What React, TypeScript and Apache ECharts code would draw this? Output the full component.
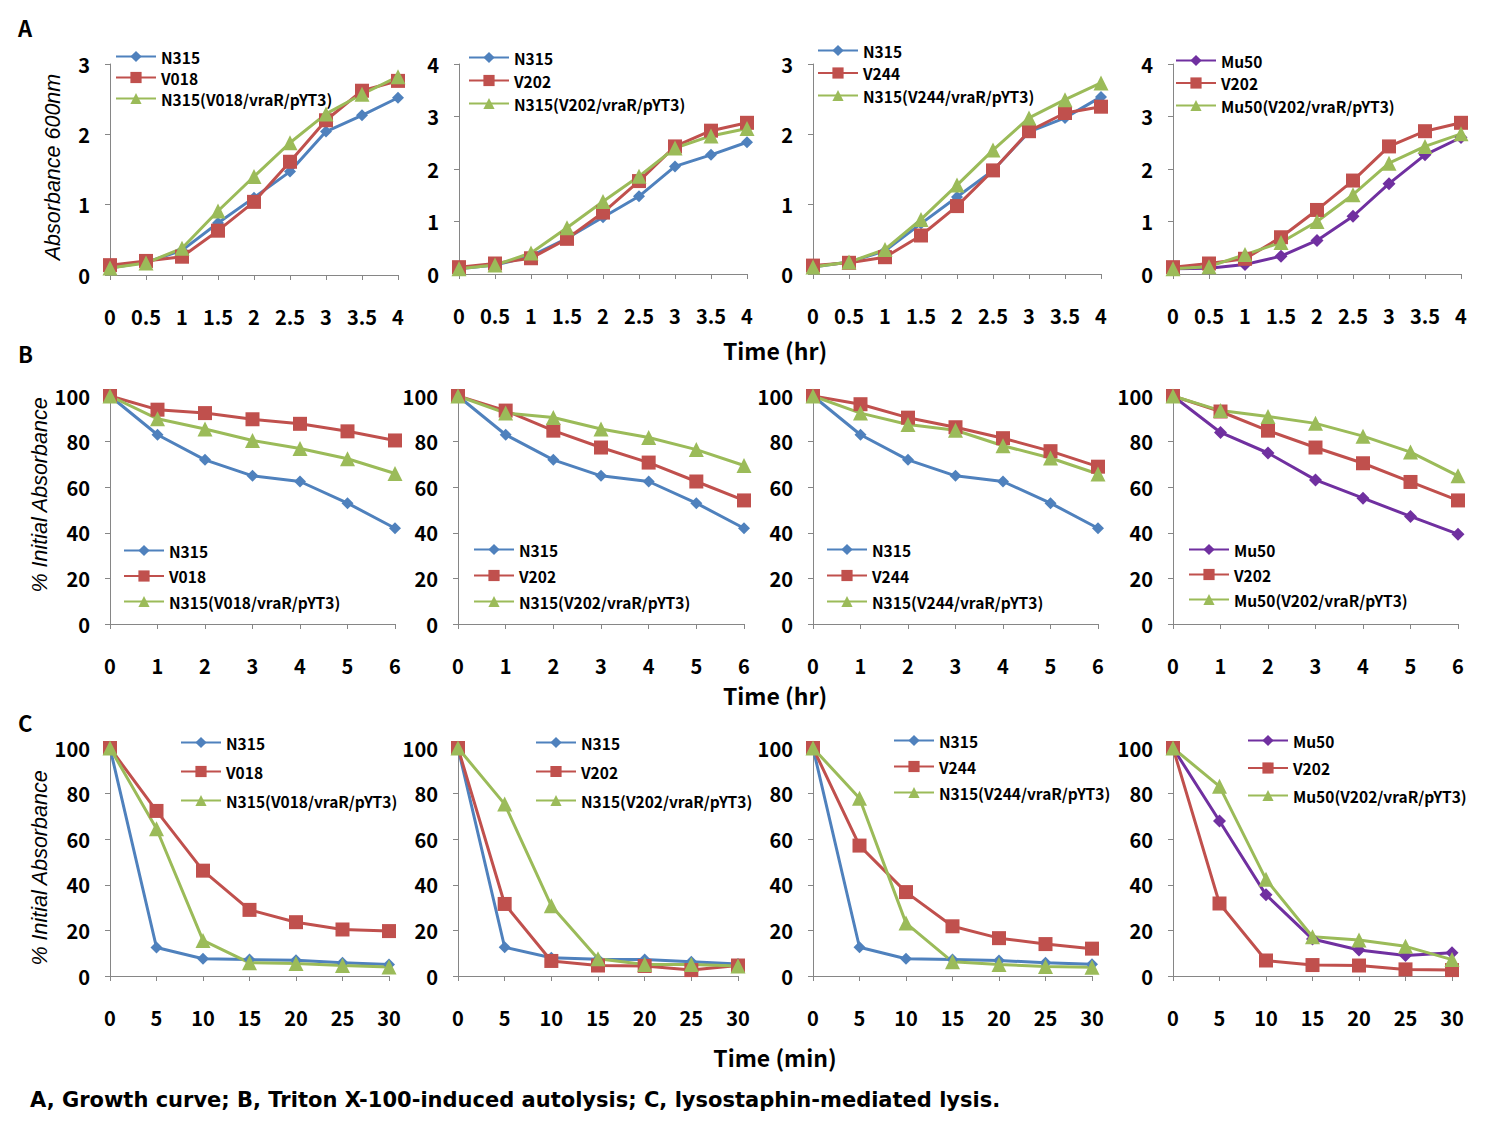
import React, { useEffect, useRef } from 'react';
import * as echarts from 'echarts';

// ---------- categories ----------
const xHours4 = ['0', '0.5', '1', '1.5', '2', '2.5', '3', '3.5', '4'];
const xHours6 = ['0', '1', '2', '3', '4', '5', '6'];
const xMinutes = ['0', '5', '10', '15', '20', '25', '30'];

const yTicksA3 = [0, 1, 2, 3];
const yTicksA4 = [0, 1, 2, 3, 4];
const yTicksPct = [0, 20, 40, 60, 80, 100];

// ---------- A: growth curve (Absorbance 600nm) ----------
const a1N315 = [0.1, 0.18, 0.35, 0.74, 1.1, 1.47, 2.04, 2.27, 2.52];
const a1V018 = [0.14, 0.2, 0.26, 0.63, 1.04, 1.61, 2.2, 2.62, 2.76];
const a1Comp = [0.1, 0.17, 0.38, 0.91, 1.4, 1.88, 2.29, 2.57, 2.82];

const a2N315 = [0.1, 0.17, 0.34, 0.68, 1.08, 1.48, 2.05, 2.27, 2.51];
const a2V202 = [0.13, 0.2, 0.3, 0.67, 1.17, 1.77, 2.43, 2.73, 2.88];
const a2Comp = [0.1, 0.17, 0.4, 0.88, 1.38, 1.86, 2.4, 2.63, 2.77];

const a3N315 = [0.1, 0.17, 0.33, 0.72, 1.1, 1.48, 2.03, 2.23, 2.53];
const a3V244 = [0.12, 0.16, 0.24, 0.55, 0.97, 1.48, 2.04, 2.3, 2.39];
const a3Comp = [0.1, 0.17, 0.35, 0.78, 1.27, 1.77, 2.23, 2.49, 2.73];

const a4Mu50 = [0.1, 0.11, 0.18, 0.34, 0.64, 1.1, 1.72, 2.27, 2.6];
const a4V202 = [0.13, 0.2, 0.29, 0.7, 1.22, 1.78, 2.43, 2.72, 2.88];
const a4Comp = [0.1, 0.14, 0.37, 0.6, 1.0, 1.51, 2.11, 2.43, 2.67];

// ---------- B: Triton X-100-induced autolysis (% initial absorbance) ----------
const b1N315 = [100, 83, 72, 65, 62.5, 53, 42];
const b1V018 = [100, 94, 92.5, 89.8, 87.8, 84.5, 80.5];
const b1Comp = [100, 90, 85.5, 80.5, 77, 72.5, 66];

const b2N315 = [100, 83, 72, 65, 62.5, 53, 42];
const b2V202 = [100, 93.6, 84.8, 77.4, 70.8, 62.5, 54.2];
const b2Comp = [100, 92.5, 90.6, 85.5, 81.8, 76.5, 69.5];

const b3N315 = [100, 83, 72, 65, 62.5, 53, 42];
const b3V244 = [100, 96.4, 90.5, 86.3, 81.5, 75.8, 69];
const b3Comp = [100, 92.5, 87.5, 85, 78.2, 72.8, 65.8];

const b4Mu50 = [100, 84, 75, 63.2, 55.2, 47.2, 39.4];
const b4V202 = [100, 93.2, 84.8, 77.4, 70.5, 62.3, 54.2];
const b4Comp = [100, 93.6, 91, 88, 82.4, 75.4, 65];

// ---------- C: lysostaphin-mediated lysis (% initial absorbance) ----------
const c1N315 = [100, 12.5, 7.6, 7.2, 6.9, 5.8, 5];
const c1V018 = [100, 72.4, 46.2, 29, 23.6, 20.4, 19.7];
const c1Comp = [100, 64.6, 15.6, 5.8, 5.5, 4.6, 4];

const c2N315 = [100, 12.6, 8, 7.4, 7.2, 6.2, 5.3];
const c2V202 = [100, 31.6, 6.6, 4.6, 4.4, 2.6, 4.6];
const c2Comp = [100, 75.4, 30.8, 7.6, 5, 5, 4.4];

const c3N315 = [100, 12.6, 7.6, 7.2, 6.8, 5.8, 5.2];
const c3V244 = [100, 57.2, 36.8, 21.8, 16.6, 14, 12];
const c3Comp = [100, 78, 23.2, 6.2, 5, 4.2, 3.8];

const c4Mu50 = [100, 68, 35.6, 16.2, 11.4, 9, 10.2];
const c4V202 = [100, 31.8, 6.8, 4.8, 4.6, 2.9, 2.6];
const c4Comp = [100, 83.2, 42.4, 17.2, 15.8, 13, 7.2];

// ---------- styling ----------
const FONT = '"Noto Sans CJK KR", "Noto Sans", sans-serif';
const WIDE_FONT = '"DejaVu Sans", Verdana, sans-serif';
const AXIS_GRAY = '#868686';
const STYLE: Record<string, { color: string; symbol: string; size: number }> = {
  N315: { color: '#4F81BD', symbol: 'diamond', size: 12 },
  Mu50: { color: '#7030A0', symbol: 'diamond', size: 13 },
  mutant: { color: '#C0504D', symbol: 'rect', size: 14 },
  comp: { color: '#9BBB59', symbol: 'triangle', size: 15 },
};

type SeriesDef = { name: string; kind: string; data: number[] };
type Panel = {
  grid: { left: number; top: number; width: number; height: number };
  cats: string[];
  yTicks: number[];
  legend: { left: number; top: number; gap: number };
  series: SeriesDef[];
};

const trio = (base: string, mutant: string, a: number[], b: number[], c: number[]): SeriesDef[] => [
  { name: base, kind: base, data: a },
  { name: mutant, kind: 'mutant', data: b },
  { name: `${base}(${mutant}/vraR/pYT3)`, kind: 'comp', data: c },
];

const colLeft = [110, 458, 813, 1173];
const panels: Panel[] = [
  // Row A
  { grid: { left: colLeft[0], top: 64, width: 288, height: 211 }, cats: xHours4, yTicks: yTicksA3,
    legend: { left: 115, top: 48, gap: 4 }, series: trio('N315', 'V018', a1N315, a1V018, a1Comp) },
  { grid: { left: 459, top: 64, width: 288, height: 210 }, cats: xHours4, yTicks: yTicksA4,
    legend: { left: 468, top: 49, gap: 6 }, series: trio('N315', 'V202', a2N315, a2V202, a2Comp) },
  { grid: { left: colLeft[2], top: 64, width: 288, height: 210 }, cats: xHours4, yTicks: yTicksA3,
    legend: { left: 817, top: 42, gap: 5.5 }, series: trio('N315', 'V244', a3N315, a3V244, a3Comp) },
  { grid: { left: colLeft[3], top: 64, width: 288, height: 210 }, cats: xHours4, yTicks: yTicksA4,
    legend: { left: 1175, top: 52, gap: 5.5 }, series: trio('Mu50', 'V202', a4Mu50, a4V202, a4Comp) },
  // Row B
  { grid: { left: colLeft[0], top: 396, width: 285, height: 228 }, cats: xHours6, yTicks: yTicksPct,
    legend: { left: 123, top: 542, gap: 8.5 }, series: trio('N315', 'V018', b1N315, b1V018, b1Comp) },
  { grid: { left: colLeft[1], top: 396, width: 286, height: 228 }, cats: xHours6, yTicks: yTicksPct,
    legend: { left: 473, top: 541, gap: 9 }, series: trio('N315', 'V202', b2N315, b2V202, b2Comp) },
  { grid: { left: colLeft[2], top: 396, width: 285, height: 228 }, cats: xHours6, yTicks: yTicksPct,
    legend: { left: 826, top: 541, gap: 9 }, series: trio('N315', 'V244', b3N315, b3V244, b3Comp) },
  { grid: { left: colLeft[3], top: 396, width: 285, height: 228 }, cats: xHours6, yTicks: yTicksPct,
    legend: { left: 1188, top: 541, gap: 8 }, series: trio('Mu50', 'V202', b4Mu50, b4V202, b4Comp) },
  // Row C
  { grid: { left: colLeft[0], top: 748, width: 279, height: 228 }, cats: xMinutes, yTicks: yTicksPct,
    legend: { left: 180, top: 734, gap: 12 }, series: trio('N315', 'V018', c1N315, c1V018, c1Comp) },
  { grid: { left: colLeft[1], top: 748, width: 280, height: 228 }, cats: xMinutes, yTicks: yTicksPct,
    legend: { left: 535, top: 734, gap: 12 }, series: trio('N315', 'V202', c2N315, c2V202, c2Comp) },
  { grid: { left: colLeft[2], top: 748, width: 279, height: 228 }, cats: xMinutes, yTicks: yTicksPct,
    legend: { left: 893, top: 732, gap: 9 }, series: trio('N315', 'V244', c3N315, c3V244, c3Comp) },
  { grid: { left: colLeft[3], top: 748, width: 279, height: 228 }, cats: xMinutes, yTicks: yTicksPct,
    legend: { left: 1247, top: 732, gap: 10.5 }, series: trio('Mu50', 'V202', c4Mu50, c4V202, c4Comp) },
];

function buildOption() {
  const grid = panels.map((p) => ({ ...p.grid, containLabel: false }));
  const axisLine = { show: true, lineStyle: { color: AXIS_GRAY, width: 1 } };
  const axisTick = { show: true, inside: false, length: 5, lineStyle: { color: AXIS_GRAY } };
  const labelStyle = { color: '#000', fontFamily: FONT, fontWeight: 'bold' as const, fontSize: 20 };

  const xAxis = panels.map((p, i) => ({
    type: 'category',
    gridIndex: i,
    data: p.cats,
    boundaryGap: false,
    axisLine,
    axisTick: { ...axisTick, interval: 0 },
    axisLabel: { ...labelStyle, margin: 31, interval: 0 },
    splitLine: { show: false },
  }));
  const yAxis = panels.map((p, i) => {
    const max = p.yTicks[p.yTicks.length - 1];
    const interval = p.yTicks[1] - p.yTicks[0];
    return {
      type: 'value',
      gridIndex: i,
      min: 0,
      max,
      interval,
      axisLine,
      axisTick,
      axisLabel: { ...labelStyle, margin: 20 },
      splitLine: { show: false },
    };
  });

  const series: any[] = [];
  panels.forEach((p, i) => {
    p.series.forEach((s) => {
      const st = STYLE[s.kind];
      series.push({
        type: 'line',
        name: s.name,
        xAxisIndex: i,
        yAxisIndex: i,
        data: s.data,
        symbol: st.symbol,
        symbolSize: st.size,
        showSymbol: true,
        lineStyle: { color: st.color, width: 3 },
        itemStyle: { color: st.color },
        emphasis: { disabled: true },
      });
    });
  });

  const legend = panels.map((p) => ({
    data: p.series.map((s) => s.name),
    left: p.legend.left,
    top: p.legend.top,
    orient: 'vertical',
    itemWidth: 40,
    itemHeight: 14,
    itemGap: p.legend.gap,
    padding: 0,
    selectedMode: false,
    textStyle: { color: '#000', fontFamily: FONT, fontWeight: 'bold', fontSize: 15.5, lineHeight: 17 },
  }));

  const boldText = (text: string, x: number, y: number, size: number, align = 'center', family = FONT) => ({
    type: 'text',
    x,
    y,
    style: {
      text,
      fill: '#000',
      fontFamily: family,
      fontWeight: 'bold',
      fontSize: size,
      align,
      verticalAlign: 'middle',
    },
  });
  const yTitle = (text: string, x: number, y: number) => ({
    type: 'text',
    x,
    y,
    rotation: Math.PI / 2,
    style: {
      text,
      fill: '#000',
      fontFamily: '"Liberation Sans", Arial, sans-serif',
      fontStyle: 'italic',
      fontSize: 21.5,
      align: 'center',
      verticalAlign: 'middle',
    },
  });

  const graphic = [
    boldText('A', 18, 27, 22, 'left'),
    boldText('B', 18, 353, 22, 'left'),
    boldText('C', 18, 722, 22, 'left'),
    boldText('Time (hr)', 775, 350, 23),
    boldText('Time (hr)', 775, 695, 23),
    boldText('Time (min)', 775, 1057, 23),
    boldText('A, Growth curve; B, Triton X-100-induced autolysis; C, lysostaphin-mediated lysis.', 30, 1100, 21, 'left', WIDE_FONT),
    yTitle('Absorbance 600nm', 53, 167),
    yTitle('% Initial Absorbance', 40, 495),
    yTitle('% Initial Absorbance', 40, 868),
  ];

  return {
    animation: false,
    backgroundColor: '#ffffff',
    grid,
    xAxis,
    yAxis,
    series,
    legend,
    graphic,
    tooltip: { show: false },
  };
}

export default function App() {
  const ref = useRef<HTMLDivElement>(null);
  useEffect(() => {
    if (!ref.current) return;
    const chart = echarts.init(ref.current, undefined, { renderer: 'svg' });
    chart.setOption(buildOption() as any);
    return () => chart.dispose();
  }, []);
  return (
    <div
      ref={ref}
      style={{ position: 'absolute', left: 0, top: 0, width: 1491, height: 1121, background: '#fff' }}
    />
  );
}
